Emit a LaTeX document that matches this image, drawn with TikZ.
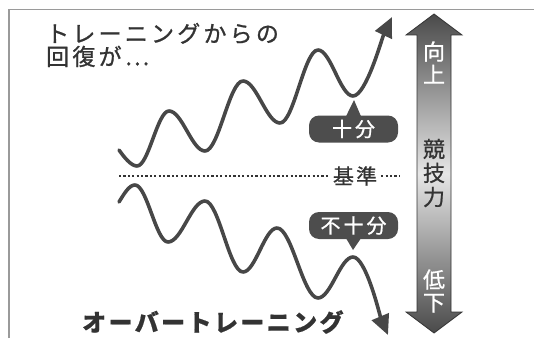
\documentclass[tikz,border=0pt]{standalone}
\usepackage{fontspec}
\setmainfont{Noto Sans CJK JP}
\usetikzlibrary{arrows.meta}
\definecolor{ink}{HTML}{333333}
\definecolor{wave}{HTML}{474747}
\definecolor{framec}{HTML}{9a9a9a}
\definecolor{tag}{HTML}{4d4d4d}
\definecolor{arrdark}{HTML}{4a4a4a}
\definecolor{arrlight}{HTML}{e6e6e6}
\begin{document}
\begin{tikzpicture}[x=1pt,y=1pt,
  wavy/.style={line width=3.6pt, draw=wave, line cap=round, line join=round, -{Triangle[length=20pt,width=18pt]}},
  tagbox/.style={fill=tag, rounded corners=10pt, minimum width=89pt, minimum height=27pt, inner sep=0pt, text=white, font=\fontsize{20}{20}\selectfont\addfontfeature{LetterSpace=15,FakeBold=0.8}},
  vtext/.style={font=\fontsize{22}{23}\selectfont\addfontfeature{FakeBold=0.8}, align=center, inner sep=0pt},
  title/.style={text=ink, inner sep=0pt, anchor=west}]
\useasboundingbox (0,0) rectangle (534,338);
% frame
\draw[framec, line width=1.5pt] (9,0) -- (9,328.5) -- (534,328.5);
% titles
\node[title, font=\fontsize{23}{23}\selectfont\addfontfeature{LetterSpace=14,FakeBold=1}, align=left] (top) at (46,293) {トレーニングからの\\回復が…};
\node[title, font=\fontsize{24}{24}\selectfont\bfseries\addfontfeature{LetterSpace=10,FakeBold=0.6}] (over) at (82,16) {オーバートレーニング};
% baseline
\node[text=ink, font=\fontsize{21}{21}\selectfont\addfontfeature{LetterSpace=10,FakeBold=0.8}, inner sep=4pt] (base) at (355,162) {基準};
\draw[ink, line width=1.6pt, dash pattern=on 2.2pt off 2.2pt] (119,162) -- (base.west);
\draw[ink, line width=1.6pt, dash pattern=on 2.2pt off 2.2pt] (base.east) -- (400,162);
% upper wave
\draw[wavy] (119,188) .. controls (124,181) and (131,172) .. (137,172)
  .. controls (148.6,172) and (157.4,227) .. (169,227)
  .. controls (182.1,227) and (191.9,187) .. (205,187)
  .. controls (218.8,187) and (229.2,257) .. (243,257)
  .. controls (256.5,257) and (266.5,215) .. (280,215)
  .. controls (293.8,215) and (304.2,288) .. (318,288)
  .. controls (330.7,288) and (340.3,242) .. (353,242)
  .. controls (366,242) and (382,300) .. (392,321);
% lower wave
\draw[wavy] (119,136) .. controls (124,144) and (129,153) .. (135,153)
  .. controls (147,153) and (156,96) .. (168,96)
  .. controls (181.5,96) and (191.5,137) .. (205,137)
  .. controls (218.8,137) and (229.2,66) .. (243,66)
  .. controls (255.4,66) and (264.6,110) .. (277,110)
  .. controls (291.9,110) and (303.1,40) .. (318,40)
  .. controls (330.7,40) and (340.3,81) .. (353,81)
  .. controls (366,81) and (380,22) .. (388,3);
% tags
\node[tagbox] (good) at (353.5,209) {十分};
\fill[tag] ([xshift=-7.5pt,yshift=-1pt]good.north) -- (354,238) -- ([xshift=7.5pt,yshift=-1pt]good.north) -- cycle;
\node[tagbox] (poor) at (353.5,112.5) {不十分};
\fill[tag] ([xshift=-7.5pt,yshift=1pt]poor.south) -- (353,88) -- ([xshift=7.5pt,yshift=1pt]poor.south) -- cycle;
% big arrow
\shadedraw[top color=arrdark, bottom color=arrdark, middle color=arrlight, draw=ink, line width=0.8pt]
  (434,324) -- (462,303) -- (451,303) -- (451,26) -- (462,26) -- (434,5)
  -- (406,26) -- (417,26) -- (417,303) -- (406,303) -- cycle;
\node[vtext, text=white] (up) at (434,275.5) {向\\上};
\node[vtext, text=ink, font=\fontsize{22}{24}\selectfont\addfontfeature{FakeBold=0.8}] (skill) at (434,165) {競\\技\\力};
\node[vtext, text=white] (down) at (434,47) {低\\下};
\end{tikzpicture}
\end{document}
